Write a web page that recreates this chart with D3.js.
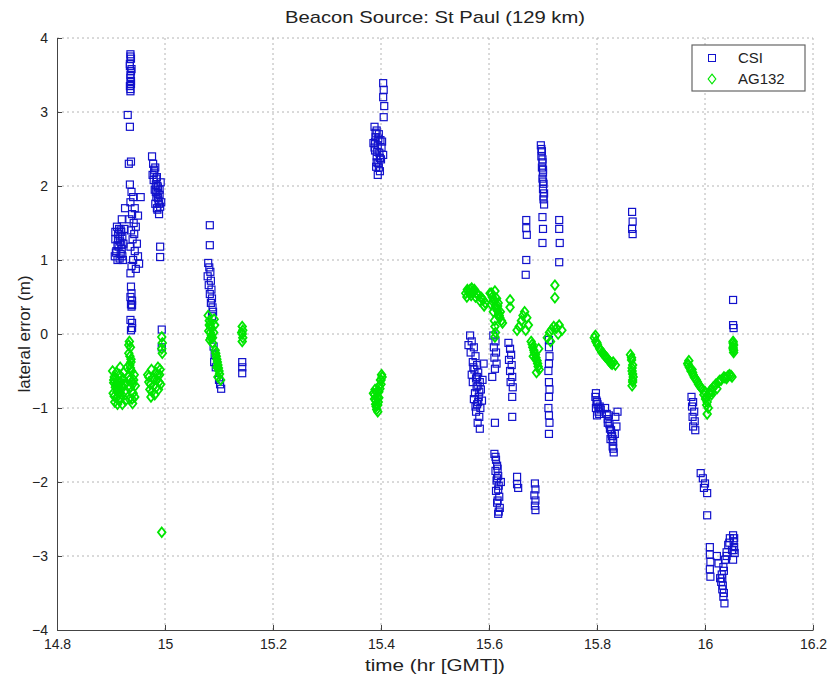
<!DOCTYPE html>
<html>
<head>
<meta charset="utf-8">
<script src="https://cdn.jsdelivr.net/npm/d3@7"></script>
<style>
  body { margin: 0; background: #fff; }
  svg text { font-family: "Liberation Sans", Arial, sans-serif; fill: #222; }
</style>
</head>
<body>
<svg id="chart" width="831" height="684"></svg>
<script>
// tick values
var xTicks = [14.8, 15, 15.2, 15.4, 15.6, 15.8, 16, 16.2];
var yTicks = [-4, -3, -2, -1, 0, 1, 2, 3, 4];

// CSI receiver: [time (hr GMT), lateral error (m)]
var csi = [
  [14.907,1.05],[14.910,1.12],[14.912,1.20],[14.908,1.28],[14.913,1.35],[14.915,1.42],[14.918,1.08],[14.920,1.15],
  [14.917,1.25],[14.921,1.32],[14.922,1.00],[14.919,1.38],[14.914,1.18],[14.916,1.02],[14.923,1.22],[14.911,1.45],
  [14.920,1.55],[14.926,1.70],[14.925,1.42],
  [14.909,1.10],[14.913,1.28],[14.918,1.40],[14.921,1.05],[14.912,1.00],[14.916,1.32],[14.919,1.20],[14.908,1.38],
  [14.936,3.78],[14.937,3.72],[14.935,3.65],[14.938,3.58],[14.936,3.50],[14.937,3.42],[14.935,3.35],[14.936,3.28],
  [14.936,3.75],[14.935,3.62],[14.937,3.55],[14.936,3.46],[14.937,3.38],[14.936,3.31],
  [14.931,2.96],[14.935,2.80],[14.933,2.30],[14.937,2.33],
  [14.935,2.02],[14.938,1.92],[14.941,1.85],[14.936,1.78],[14.944,1.70],[14.939,1.62],[14.934,1.55],[14.942,1.50],
  [14.946,1.45],[14.937,1.40],[14.943,1.35],[14.940,1.28],[14.948,1.22],[14.936,1.18],[14.944,1.12],[14.950,1.05],
  [14.941,1.00],[14.952,0.95],[14.946,0.88],[14.938,0.92],[14.955,1.85],[14.950,1.60],
  [14.936,0.82],[14.937,0.64],[14.938,0.55],[14.936,0.50],[14.939,0.45],[14.937,0.40],[14.938,0.37],[14.936,0.19],
  [14.937,0.05],[14.939,0.39],[14.939,0.15],[14.939,0.08],
  [14.976,2.40],[14.978,2.30],[14.982,2.25],[14.980,2.18],[14.985,2.12],[14.979,2.08],[14.983,2.02],[14.987,1.98],
  [14.981,1.95],[14.986,1.90],[14.990,1.88],[14.984,1.85],[14.988,1.80],[14.982,1.76],[14.991,1.72],[14.986,1.68],
  [14.989,1.62],[14.993,1.78],[14.977,2.15],[14.992,2.05],
  [14.980,2.22],[14.984,2.10],[14.986,2.00],[14.983,1.92],[14.987,1.84],[14.989,1.76],[14.985,1.70],[14.990,1.95],
  [14.991,1.18],[14.991,1.04],[14.994,0.06],[14.994,-0.18],
  [15.083,1.47],[15.083,1.20],[15.080,0.96],[15.082,0.90],[15.084,0.84],[15.079,0.78],[15.085,0.72],[15.081,0.66],
  [15.086,0.60],[15.083,0.54],[15.087,0.48],[15.085,0.42],[15.088,0.36],[15.089,0.30],[15.087,0.24],
  [15.090,-0.17],[15.092,-0.28],[15.091,-0.38],[15.094,-0.45],[15.100,-0.62],[15.102,-0.68],[15.104,-0.74],
  [15.143,-0.38],[15.143,-0.45],[15.143,-0.53],
  [15.404,3.39],[15.405,3.30],[15.404,3.20],[15.406,3.08],[15.405,2.93],[15.388,2.80],[15.392,2.75],[15.396,2.70],
  [15.390,2.66],[15.399,2.62],[15.386,2.58],[15.394,2.55],[15.401,2.52],[15.389,2.48],[15.397,2.45],[15.392,2.40],
  [15.400,2.36],[15.395,2.31],[15.391,2.26],[15.398,2.20],[15.394,2.15],[15.402,2.60],[15.404,2.42],
  [15.390,2.72],[15.395,2.64],[15.388,2.52],[15.393,2.46],[15.398,2.38],[15.392,2.32],[15.396,2.25],[15.389,2.60],
  [15.565,-0.02],[15.568,-0.10],[15.572,-0.18],[15.566,-0.25],[15.575,-0.30],[15.570,-0.38],[15.578,-0.42],[15.573,-0.48],
  [15.580,-0.52],[15.568,-0.55],[15.576,-0.60],[15.583,-0.65],[15.579,-0.70],[15.585,-0.75],[15.574,-0.80],[15.581,-0.85],
  [15.587,-0.90],[15.578,-0.95],[15.584,-1.00],[15.576,-1.05],[15.582,-1.12],[15.579,-1.20],[15.583,-1.28],[15.590,-0.40],
  [15.588,-0.62],[15.562,-0.15],
  [15.570,-0.65],[15.577,-0.72],[15.572,-0.88],[15.580,-0.92],[15.575,-0.98],[15.582,-0.78],[15.571,-0.45],[15.578,-0.58],
  [15.608,-0.02],[15.612,-0.10],[15.609,-0.18],[15.613,-0.25],[15.610,-0.32],[15.614,-0.40],[15.611,-0.47],[15.606,-0.58],
  [15.611,-1.20],
  [15.610,-1.62],[15.613,-1.70],[15.615,-1.78],[15.612,-1.85],[15.617,-1.92],[15.614,-1.98],[15.618,-2.05],[15.613,-2.12],
  [15.619,-2.20],[15.615,-2.28],[15.620,-2.35],[15.617,-2.43],[15.622,-2.00],
  [15.612,-1.66],[15.616,-1.82],[15.615,-1.95],[15.617,-2.10],[15.616,-2.25],[15.618,-2.40],
  [15.636,-0.12],[15.639,-0.20],[15.641,-0.28],[15.637,-0.35],[15.642,-0.42],[15.639,-0.50],[15.643,-0.58],[15.640,-0.65],
  [15.644,-0.72],[15.643,-0.85],[15.643,-1.12],
  [15.652,-1.93],[15.652,-2.03],[15.654,-2.08],
  [15.685,-2.02],[15.686,-2.10],[15.684,-2.18],[15.686,-2.25],[15.685,-2.32],[15.686,-2.38],
  [15.696,2.55],[15.698,2.47],[15.697,2.40],[15.699,2.32],[15.698,2.25],[15.700,2.18],[15.699,2.10],[15.701,2.03],
  [15.700,1.96],[15.702,1.90],[15.701,1.82],[15.702,1.75],[15.699,1.58],[15.700,1.42],[15.699,1.23],
  [15.697,2.50],[15.699,2.36],[15.700,2.22],[15.700,2.06],[15.701,1.86],
  [15.669,1.54],[15.669,1.43],[15.670,1.34],[15.669,1.00],[15.668,0.80],
  [15.730,1.54],[15.730,1.42],[15.731,1.23],[15.730,0.97],
  [15.711,-0.08],[15.711,-0.18],[15.712,-0.30],[15.711,-0.40],[15.710,-0.50],[15.711,-0.65],[15.712,-0.75],[15.711,-0.85],
  [15.710,-1.00],[15.711,-1.10],[15.712,-1.20],[15.711,-1.35],
  [15.797,-0.85],[15.799,-0.90],[15.801,-0.95],[15.798,-1.00],[15.803,-1.05],[15.800,-1.10],[15.805,-0.98],[15.807,-1.02],
  [15.804,-1.08],[15.798,-0.80],[15.800,-0.92],[15.803,-1.00],
  [15.815,-1.00],[15.818,-1.08],[15.820,-1.15],[15.823,-1.22],[15.826,-1.30],[15.828,-1.38],[15.830,-1.45],[15.829,-1.52],
  [15.831,-1.60],[15.834,-1.12],[15.836,-1.25],[15.833,-1.35],[15.838,-1.05],[15.825,-1.42],
  [15.820,-1.20],[15.824,-1.28],[15.827,-1.35],[15.829,-1.42],[15.822,-1.10],[15.830,-1.55],
  [15.865,1.65],[15.866,1.52],[15.865,1.42],[15.866,1.35],
  [15.975,-0.85],[15.978,-0.92],[15.976,-0.98],[15.980,-1.05],[15.977,-1.12],[15.981,-1.18],[15.978,-1.25],[15.982,-1.30],
  [15.992,-1.88],[15.996,-1.95],[16.000,-2.02],[15.998,-2.08],[16.004,-2.15],[16.004,-2.45],
  [16.009,-2.88],[16.009,-2.98],[16.010,-3.08],[16.009,-3.18],[16.010,-3.28],
  [16.046,-2.76],[16.043,-2.85],[16.040,-2.95],[16.037,-3.05],[16.034,-3.15],[16.031,-3.25],[16.030,-3.35],[16.032,-3.45],
  [16.034,-3.55],[16.036,-3.64],[16.025,-3.10],[16.022,-3.00],[16.028,-3.30],
  [16.035,-3.20],[16.032,-3.30],[16.033,-3.40],[16.035,-3.50],[16.040,-3.00],[16.045,-2.82],
  [16.052,-2.72],[16.053,-2.80],[16.054,-2.88],[16.055,-2.96],[16.052,-3.05],[16.050,-2.92],[16.054,-2.76],[16.053,-2.92],
  [16.052,0.46],[16.052,0.12],[16.053,0.08]
];

// AG132 receiver
var ag132 = [
  [14.903,-0.50],[14.906,-0.58],[14.905,-0.66],[14.908,-0.72],[14.904,-0.80],[14.910,-0.86],[14.912,-0.62],[14.914,-0.70],
  [14.911,-0.78],[14.916,-0.55],[14.918,-0.65],[14.915,-0.90],[14.920,-0.82],[14.917,-0.45],[14.922,-0.60],[14.919,-0.75],
  [14.907,-0.92],[14.924,-0.68],[14.921,-0.95],
  [14.905,-0.62],[14.909,-0.68],[14.913,-0.74],[14.916,-0.80],[14.910,-0.52],[14.906,-0.84],[14.918,-0.88],[14.921,-0.70],
  [14.923,-0.52],[14.912,-0.95],[14.925,-0.78],[14.927,-0.90],
  [14.934,-0.10],[14.936,-0.18],[14.933,-0.26],[14.937,-0.34],[14.935,-0.42],[14.938,-0.50],[14.932,-0.58],[14.939,-0.64],
  [14.936,-0.72],[14.941,-0.80],[14.934,-0.88],[14.940,-0.94],[14.943,-0.55],[14.945,-0.70],[14.930,-0.45],[14.928,-0.66],
  [14.944,-0.85],
  [14.935,-0.30],[14.937,-0.38],[14.936,-0.46],[14.934,-0.62],[14.938,-0.78],[14.940,-0.68],[14.942,-0.62],[14.939,-0.88],
  [14.933,-0.15],
  [14.968,-0.55],[14.970,-0.65],[14.972,-0.75],[14.975,-0.48],[14.977,-0.60],[14.979,-0.70],[14.981,-0.82],[14.983,-0.52],
  [14.985,-0.62],[14.987,-0.45],[14.990,-0.55],[14.992,-0.68],[14.974,-0.85],[14.988,-0.75],
  [14.970,-0.58],[14.973,-0.68],[14.976,-0.78],[14.980,-0.62],[14.984,-0.72],[14.986,-0.55],[14.989,-0.65],[14.991,-0.48],
  [14.994,-0.04],[14.995,-0.12],[14.994,-0.20],[14.995,-0.26],[14.994,-2.68],
  [15.080,0.25],[15.082,0.18],[15.084,0.10],[15.081,0.04],[15.086,-0.02],[15.083,-0.08],[15.088,-0.12],[15.085,-0.05],
  [15.090,0.02],[15.093,-0.22],[15.095,-0.30],[15.097,-0.38],[15.099,-0.46],[15.101,-0.54],[15.103,-0.62],[15.098,-0.58],
  [15.096,-0.45],[15.092,0.12],[15.091,0.20],
  [15.082,0.12],[15.084,0.02],[15.086,0.08],[15.088,-0.05],[15.094,-0.26],[15.096,-0.34],[15.098,-0.42],[15.100,-0.50],
  [15.143,0.10],[15.144,0.05],[15.143,0.00],[15.144,-0.05],[15.143,-0.10],[15.142,0.02],
  [15.386,-0.80],[15.388,-0.88],[15.390,-0.95],[15.392,-1.02],[15.389,-0.75],[15.393,-0.85],[15.395,-0.92],[15.397,-0.70],
  [15.399,-0.62],[15.401,-0.55],[15.396,-0.78],[15.400,-0.68],[15.391,-0.98],[15.394,-1.05],
  [15.388,-0.82],[15.390,-0.90],[15.392,-0.78],[15.394,-0.96],[15.396,-0.86],[15.398,-0.74],[15.400,-0.62],[15.402,-0.58],
  [15.557,0.55],[15.561,0.58],[15.565,0.60],[15.569,0.57],[15.573,0.60],[15.577,0.55],[15.581,0.52],[15.585,0.50],
  [15.589,0.46],[15.593,0.42],[15.559,0.50],[15.567,0.52],[15.575,0.50],[15.583,0.45],[15.591,0.38],
  [15.563,0.55],[15.571,0.56],[15.579,0.53],[15.587,0.48],[15.560,0.60],[15.568,0.62],
  [15.602,0.55],[15.606,0.50],[15.610,0.45],[15.604,0.40],[15.612,0.38],[15.615,0.32],[15.618,0.28],[15.620,0.22],
  [15.623,0.18],[15.608,0.30],[15.614,0.48],[15.617,0.42],[15.625,0.15],[15.611,0.58],
  [15.607,0.44],[15.613,0.35],[15.616,0.38],[15.619,0.25],[15.621,0.30],[15.605,0.55],
  [15.610,0.18],[15.611,0.10],[15.612,0.02],[15.611,-0.04],
  [15.639,0.46],[15.639,0.36],
  [15.652,0.05],[15.656,0.10],[15.660,0.18],[15.663,0.25],[15.666,0.30],[15.670,0.22],[15.673,0.12],[15.668,0.05],
  [15.678,-0.10],[15.681,-0.18],[15.684,-0.25],[15.687,-0.32],[15.690,-0.40],[15.693,-0.48],[15.688,-0.52],[15.682,-0.30],
  [15.692,-0.20],[15.680,-0.14],[15.683,-0.22],[15.686,-0.28],[15.689,-0.36],[15.691,-0.44],
  [15.708,-0.05],[15.712,0.02],[15.716,0.06],[15.720,0.10],[15.725,0.08],[15.730,0.12],[15.735,0.05],[15.714,-0.10],
  [15.728,0.00],
  [15.722,0.66],[15.722,0.49],
  [15.795,-0.05],[15.798,-0.10],[15.801,-0.15],[15.805,-0.20],[15.809,-0.25],[15.813,-0.28],[15.818,-0.32],[15.822,-0.36],
  [15.826,-0.40],[15.830,-0.38],[15.834,-0.42],[15.797,-0.02],[15.815,-0.30],
  [15.800,-0.12],[15.807,-0.22],[15.811,-0.26],[15.816,-0.31],[15.820,-0.34],[15.824,-0.38],[15.828,-0.41],
  [15.862,-0.28],[15.864,-0.35],[15.866,-0.42],[15.865,-0.50],[15.867,-0.58],[15.866,-0.65],[15.865,-0.70],
  [15.864,-0.32],[15.865,-0.46],[15.866,-0.54],[15.866,-0.62],
  [15.968,-0.40],[15.971,-0.45],[15.974,-0.50],[15.978,-0.55],[15.982,-0.60],[15.986,-0.65],[15.990,-0.70],[15.994,-0.74],
  [15.970,-0.36],[15.976,-0.48],
  [15.969,-0.42],[15.973,-0.47],[15.977,-0.52],[15.980,-0.58],[15.984,-0.62],[15.988,-0.68],[15.992,-0.72],
  [16.000,-0.78],[16.002,-0.85],[16.004,-0.92],[16.006,-1.00],[16.004,-1.08],[15.998,-0.82],[16.001,-0.88],[16.003,-0.96],
  [16.010,-0.76],[16.015,-0.72],[16.020,-0.68],[16.025,-0.65],[16.030,-0.62],[16.035,-0.58],[16.040,-0.60],[16.045,-0.55],
  [16.050,-0.58],[16.012,-0.82],[16.022,-0.74],
  [16.008,-0.80],[16.018,-0.70],[16.027,-0.63],[16.037,-0.59],[16.042,-0.57],[16.048,-0.56],[16.013,-0.78],
  [16.052,-0.10],[16.053,-0.15],[16.052,-0.20],[16.053,-0.25],[16.052,-0.18],[16.053,-0.22],[16.052,-0.12]
];

var seriesNames = ["CSI", "AG132"];

var margin = { top: 38, right: 18, bottom: 54, left: 57 },
    width = 831 - margin.left - margin.right,
    height = 684 - margin.top - margin.bottom;

var blue = "#1212cc", green = "#00e600";

var svg = d3.select("#chart");
var g = svg.append("g").attr("transform", "translate(" + margin.left + "," + margin.top + ")");

var x = d3.scaleLinear().domain([14.8, 16.2]).range([0, width]);
var y = d3.scaleLinear().domain([-4, 4]).range([height, 0]);

// dotted grid
g.append("g").selectAll("line").data(xTicks.slice(1)).enter().append("line")
  .attr("x1", function (d) { return x(d); }).attr("x2", function (d) { return x(d); })
  .attr("y1", 0).attr("y2", height)
  .attr("stroke", "#b4b4b4").attr("stroke-dasharray", "2,3");
g.append("g").selectAll("line").data(yTicks.slice(1)).enter().append("line")
  .attr("y1", function (d) { return y(d); }).attr("y2", function (d) { return y(d); })
  .attr("x1", 0).attr("x2", width)
  .attr("stroke", "#b4b4b4").attr("stroke-dasharray", "2,3");

// axes
var xAxis = d3.axisBottom(x).tickValues(xTicks).tickSizeInner(-5).tickSizeOuter(0).tickPadding(9)
  .tickFormat(function (d) { return d3.format("")(+d.toFixed(1)); });
var yAxis = d3.axisLeft(y).tickValues(yTicks).tickSizeInner(-5).tickSizeOuter(0).tickPadding(9);

var gx = g.append("g").attr("transform", "translate(0," + height + ")").call(xAxis);
var gy = g.append("g").call(yAxis);
[gx, gy].forEach(function (a) {
  a.select(".domain").attr("stroke", "#444");
  a.selectAll(".tick line").attr("stroke", "#444");
  a.selectAll(".tick text").style("font-size", "14px").style("fill", "#222");
});

// markers
var diamond = "M0,-4.8L3.8,0L0,4.8L-3.8,0Z";

g.append("g").selectAll("rect").data(csi).enter().append("rect")
  .attr("x", function (d) { return x(d[0]) - 3.5; })
  .attr("y", function (d) { return y(d[1]) - 3.5; })
  .attr("width", 7).attr("height", 7)
  .attr("fill", "none").attr("stroke", blue).attr("stroke-width", 1.2);

g.append("g").selectAll("path").data(ag132).enter().append("path")
  .attr("d", diamond)
  .attr("transform", function (d) { return "translate(" + x(d[0]) + "," + y(d[1]) + ")"; })
  .attr("fill", "none").attr("stroke", green).attr("stroke-width", 1.8);

// legend
var leg = g.append("g").attr("transform", "translate(" + (692 - margin.left) + "," + (45 - margin.top) + ")");
leg.append("rect").attr("width", 113).attr("height", 46)
  .attr("fill", "#fff").attr("stroke", "#666").attr("stroke-width", 1.2);
leg.append("rect").attr("x", 16.5).attr("y", 9.5).attr("width", 7).attr("height", 7)
  .attr("fill", "none").attr("stroke", blue);
leg.append("path").attr("d", diamond).attr("transform", "translate(20,34)")
  .attr("fill", "none").attr("stroke", green).attr("stroke-width", 1.2);
leg.selectAll("text.lab").data(seriesNames).enter().append("text")
  .attr("class", "lab")
  .attr("x", 46).attr("y", function (d, i) { return 18 + i * 21; })
  .style("font-size", "15px")
  .text(function (d) { return d; });

// titles
svg.append("text").attr("x", margin.left + width / 2).attr("y", 23)
  .attr("text-anchor", "middle").style("font-size", "17px")
  .attr("textLength", 300).attr("lengthAdjust", "spacingAndGlyphs")
  .text("Beacon Source: St Paul (129 km)");
svg.append("text").attr("x", margin.left + width / 2).attr("y", 671)
  .attr("text-anchor", "middle").style("font-size", "17px")
  .attr("textLength", 140).attr("lengthAdjust", "spacingAndGlyphs")
  .text("time (hr [GMT])");
svg.append("text").attr("transform", "translate(30," + (margin.top + height / 2) + ") rotate(-90)")
  .attr("text-anchor", "middle").style("font-size", "17px")
  .text("lateral error (m)");
</script>
</body>
</html>
